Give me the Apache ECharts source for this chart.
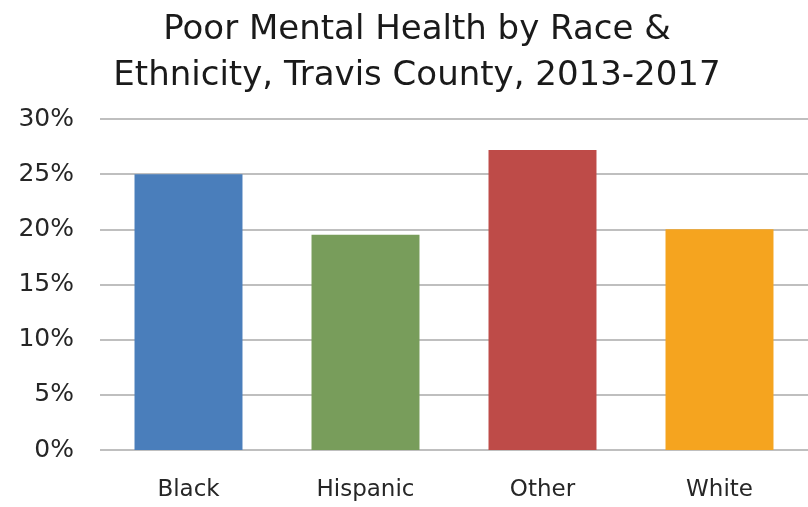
<!DOCTYPE html>
<html><head><meta charset="utf-8">
<script src="https://cdn.jsdelivr.net/npm/echarts@6/dist/echarts.min.js"></script>
<style>html,body{margin:0;padding:0;background:#fff}#c{width:808px;height:507px}</style>
</head><body><div id="c"></div>
<script>
const categories = ["Black", "Hispanic", "Other", "White"];
const values = [25.0, 19.5, 27.2, 20.0];
const colors = ["#4A7EBB", "#789D5B", "#BE4B48", "#F5A41F"];
const yTicks = [0, 5, 10, 15, 20, 25, 30];
const titleText = "Poor Mental Health by Race &\nEthnicity, Travis County, 2013-2017";

const chart = echarts.init(document.getElementById('c'), null, {renderer: 'canvas'});
chart.setOption({
  animation: false,
  title: {
    text: titleText, left: 412, top: 2, textAlign: 'center',
    textStyle: {fontFamily: 'DejaVu Sans', fontWeight: 'normal', fontSize: 34, color: '#1a1a1a', lineHeight: 46}
  },
  grid: {left: 100, top: 119, width: 712, height: 331, containLabel: false},
  xAxis: {
    type: 'category', data: categories,
    axisLine: {show: false}, axisTick: {show: false},
    axisLabel: {fontFamily: 'DejaVu Sans', fontSize: 23, color: '#262626', margin: 29}
  },
  yAxis: {
    type: 'value', min: yTicks[0], max: yTicks[yTicks.length - 1], interval: 5,
    axisLine: {show: false}, axisTick: {show: false},
    axisLabel: {fontFamily: 'DejaVu Sans', fontSize: 25, color: '#262626', margin: 26,
      formatter: v => v + '%'},
    splitLine: {lineStyle: {color: '#bfbfbf', width: 2}}
  },
  series: [{
    type: 'bar', barCategoryGap: '39%',
    data: values.map((v, i) => ({value: v, itemStyle: {color: colors[i]}}))
  }]
});
</script></body></html>
